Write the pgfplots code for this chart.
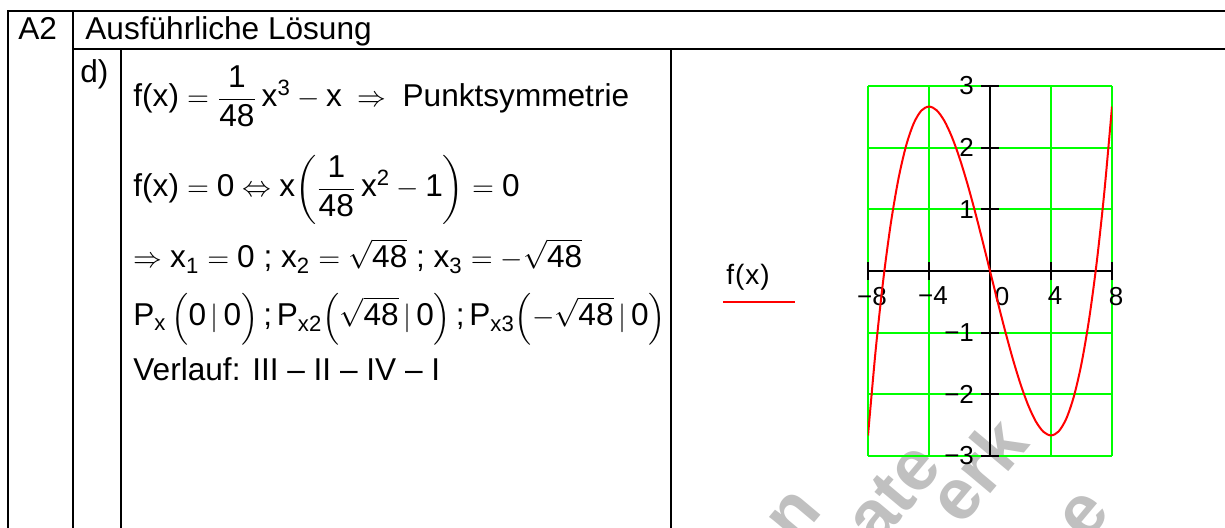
\documentclass[border=0pt]{standalone}
\usepackage{amsmath}
\usepackage{fontspec}
\setmainfont{Liberation Sans}
\usepackage{pgfplots}
\pgfplotsset{compat=1.18}
\newcommand\T[1]{\text{#1}}
\definecolor{gridgreen}{RGB}{0,255,0}
\definecolor{wm}{RGB}{192,192,192}
\begin{document}
\begin{tikzpicture}[x=0.5pt,y=0.5pt]
\useasboundingbox (0,0) rectangle (1225,528);
\clip (0,0) rectangle (1225,528);
\fill[white] (0,0) rectangle (1225,528);
% watermark fragments
\begin{scope}[font=\fontsize{36}{37}\selectfont\bfseries, text=wm]
\node[rotate=50] at (795,12) {n};
\node[rotate=50] at (893,35) {ate};
\node[rotate=50] at (977,58) {erk};
\node[rotate=50] at (1085,12) {e};
\end{scope}
% table lines
\begin{scope}[line width=1pt, line cap=rect]
\draw (8,517) -- (1230,517);
\draw (73,479) -- (1230,479);
\draw (8,517) -- (8,-5);
\draw (73,517) -- (73,-5);
\draw (121,479) -- (121,-5);
\draw (671,479) -- (671,-5);
\end{scope}
% text
\begin{scope}[font=\fontsize{15.8}{18}\selectfont, inner sep=0pt]
\node[anchor=base west] at (18,488) {A2};
\node[anchor=base west] at (85,488) {Ausführliche Lösung};
\node[anchor=base west] at (80,445) {d)};
\node[anchor=base west] at (133,421) {$\displaystyle \T{f(x)} = \frac{\T{1}}{\T{48}}\,\T{x}^{\T{3}} - \T{x} \;\Rightarrow\; \T{Punktsymmetrie}$};
\node[anchor=base west] at (133,331) {$\displaystyle \T{f(x)} = \T{0} \Leftrightarrow \T{x}\!\left(\frac{\T{1}}{\T{48}}\,\T{x}^{\T{2}} - \T{1}\right) = \T{0}$};
\node[anchor=base west] at (133,260) {$\displaystyle \Rightarrow \T{x}_{\T{1}} = \T{0}\ \T{;}\ \T{x}_{\T{2}} = \sqrt{\T{48}}\ \T{;}\ \T{x}_{\T{3}} = -\sqrt{\T{48}}$};
\node[anchor=base west] at (133,202) {$\displaystyle \T{P}_{\T{x}}\,\Bigl(\T{0}\,|\,\T{0}\Bigr)\,\T{;}\,\T{P}_{\T{x2}}\Bigl(\sqrt{\T{48}}\,|\,\T{0}\Bigr)\,\T{;}\,\T{P}_{\T{x3}}\Bigl(-\sqrt{\T{48}}\,|\,\T{0}\Bigr)$};
\node[anchor=base west] at (133,147) {Verlauf: III – II – IV – I};
\end{scope}
% legend
\node[font=\fontsize{14}{16}\selectfont, inner sep=0pt] at (748,251) {f\kern0.5pt(\kern0.5pt x\kern0.5pt)};
\draw[red, line width=0.9pt] (723,226.3) -- (795,226.3);
\begin{axis}[
  at={(434pt,36pt)}, anchor=south west,
  scale only axis, width=122pt, height=185pt,
  xmin=-8, xmax=8, ymin=-3, ymax=3,
  axis lines=middle,
  axis line style={black, line width=1pt, -},
  xtick={-8,-4,0,4,8},
  ytick={-3,-2,-1,1,2,3},
  xticklabels={−8,−4,\hspace*{8pt}0,4,8},
  yticklabels={−3,−2,−1,1,2,3},
  hide obscured x ticks=false,
  hide obscured y ticks=false,
  tick align=center,
  major tick length=9pt,
  tick style={black, line width=1pt},
  grid=major,
  major grid style={gridgreen, line width=0.85pt},
  ticklabel style={font=\fontsize{13}{15}\selectfont},
  xticklabel style={xshift=2pt},
]
\addplot[red, line width=1pt, smooth] table {
x y
-8 -2.6667
-7.5 -1.2891
-7 -0.1458
-6.5 0.7786
-6 1.5
-5.5 2.0339
-5 2.3958
-4.5 2.6016
-4 2.6667
-3.5 2.6068
-3 2.4375
-2.5 2.1745
-2 1.8333
-1.5 1.4297
-1 0.9792
-0.5 0.4974
0 0
0.5 -0.4974
1 -0.9792
1.5 -1.4297
2 -1.8333
2.5 -2.1745
3 -2.4375
3.5 -2.6068
4 -2.6667
4.5 -2.6016
5 -2.3958
5.5 -2.0339
6 -1.5
6.5 -0.7786
7 0.1458
7.5 1.2891
8 2.6667
};
\node[font=\fontsize{13}{15}\selectfont, yshift=-29.5pt] at (axis cs:0,-3) {x};
\end{axis}
\end{tikzpicture}
\end{document}
